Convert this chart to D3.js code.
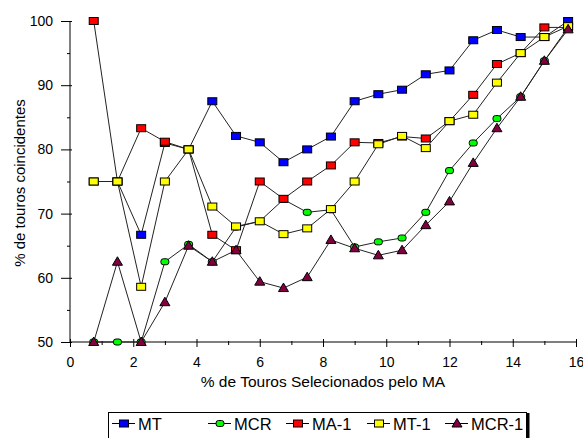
<!DOCTYPE html>
<html>
<head>
<meta charset="utf-8">
<script src="https://cdn.jsdelivr.net/npm/d3@7"></script>
<style>
  html, body { margin: 0; padding: 0; background: #fff; }
  svg { display: block; }
  text { font-family: "Liberation Sans", Arial, sans-serif; fill: #000; }
</style>
</head>
<body>
<svg id="chart" width="583" height="438"></svg>
<script>
// ---- data ----
const xValues = [0.75, 1.5, 2.25, 3.0, 3.75, 4.5, 5.25, 6.0, 6.75, 7.5, 8.25, 9.0, 9.75, 10.5, 11.25, 12.0, 12.75, 13.5, 14.25, 15.0, 15.75];
const MT     = [75, 75, 66.7, 81, 80, 87.5, 82.1, 81.1, 78, 80, 82, 87.5, 88.6, 89.3, 91.7, 92.3, 97, 98.6, 97.5, 97.5, 100];
const MCR    = [50, 50, 50, 62.5, 65.2, 62.5, 67.9, 68.8, 72.2, 70.2, 70.6, 64.8, 65.6, 66.2, 70.2, 76.7, 81, 84.8, 88.2, 93.8, 99];
const MA1    = [100, 75, 83.3, 81.2, 80, 66.7, 64.3, 75, 72.3, 75, 77.5, 81.1, 81, 82, 81.7, 84.4, 88.5, 93.3, 95, 99, 99];
const MT1    = [75, 75, 58.6, 75, 80, 71.1, 68, 68.8, 66.8, 67.7, 70.7, 75, 80.8, 82.1, 80.2, 84.4, 85.4, 90.4, 95, 97.5, 99.2];
const MCR1   = [50, 62.5, 50, 56.2, 65, 62.5, 64.3, 59.4, 58.4, 60.1, 65.9, 64.6, 63.5, 64.3, 68.2, 71.9, 77.9, 83.3, 88.2, 93.8, 98.7];
const seriesNames = ["MT", "MCR", "MA-1", "MT-1", "MCR-1"];
const xTicks = [0, 2, 4, 6, 8, 10, 12, 14, 16];
const yTicks = [50, 60, 70, 80, 90, 100];
const xTitle = "% de Touros Selecionados pelo MA";
const yTitle = "% de touros coincidentes";

// ---- build ----
const seriesValues = [MT, MCR, MA1, MT1, MCR1];
const colors = ["#0000ff", "#00ff00", "#ff0000", "#ffff00", "#800040"];
const shapes = ["square", "round", "square", "square", "triangle"];

const svg = d3.select("#chart");
const x = d3.scaleLinear().domain([0, 16]).range([70, 576]);
const y = d3.scaleLinear().domain([50, 100]).range([342, 21]);

// Y axis
const gy = svg.append("g").attr("transform", "translate(70,0)");
gy.call(d3.axisLeft(y).tickValues(yTicks).tickSize(9).tickPadding(8).tickFormat(d3.format("d")))
  .call(g => g.select(".domain").attr("d", `M0,${y(50)}V${y(100)}`));
gy.selectAll(".tick line").attr("x2", -9).attr("x1", 2);
gy.selectAll("text").style("font-size", "14px");
svg.append("g").attr("transform", "translate(70,0)")
  .call(d3.axisLeft(y).tickValues(d3.range(55, 100, 10)).tickSize(3).tickFormat(""))
  .call(g => g.select(".domain").remove());

// X axis
const gx = svg.append("g").attr("transform", `translate(0,${y(50)})`);
gx.call(d3.axisBottom(x).tickValues(xTicks).tickSize(5).tickPadding(10).tickFormat(d3.format("d")))
  .call(g => g.select(".domain").attr("d", `M${x(0)},0H${x(16)}`));
gx.selectAll(".tick line").attr("y1", -3);
gx.selectAll("text").style("font-size", "14px");
const gxm = svg.append("g").attr("transform", `translate(0,${y(50)})`)
  .call(d3.axisBottom(x).tickValues(d3.range(1, 16, 2)).tickSize(3).tickFormat(""))
  .call(g => g.select(".domain").remove());
gxm.selectAll(".tick line").attr("y1", -1);

svg.selectAll(".domain, .tick line").attr("stroke", "#000");

// titles
svg.append("text").attr("x", (x(0) + x(16)) / 2).attr("y", 387)
  .attr("text-anchor", "middle").style("font-size", "15.5px").text(xTitle);
svg.append("text").attr("transform", `translate(25,183) rotate(-90)`)
  .attr("text-anchor", "middle").style("font-size", "15px").text(yTitle);

// lines
const line = d3.line().x((d, i) => x(xValues[i])).y(d => y(d));
seriesValues.forEach(vals => {
  svg.append("path").datum(vals).attr("d", line)
    .attr("fill", "none").attr("stroke", "#222").attr("stroke-width", 1);
});

function drawMarker(g, shape, color, cx, cy) {
  if (shape === "triangle") {
    g.append("path").attr("d", `M${cx},${cy - 5}L${cx + 5},${cy + 3.5}L${cx - 5},${cy + 3.5}Z`)
      .attr("fill", color).attr("stroke", "#000").attr("stroke-width", 1);
  } else if (shape === "round") {
    g.append("rect").attr("x", cx - 4).attr("y", cy - 3).attr("width", 8).attr("height", 6)
      .attr("rx", 2.5).attr("ry", 2.5)
      .attr("fill", color).attr("stroke", "#000").attr("stroke-width", 1);
  } else {
    g.append("rect").attr("x", cx - 4.5).attr("y", cy - 3.5).attr("width", 9).attr("height", 7)
      .attr("fill", color).attr("stroke", "#000").attr("stroke-width", 1);
  }
}

// markers
seriesValues.forEach((vals, s) => {
  const g = svg.append("g");
  vals.forEach((v, i) => drawMarker(g, shapes[s], colors[s], x(xValues[i]), y(v)));
});

// legend
const lg = svg.append("g");
lg.append("rect").attr("x", 108.5).attr("y", 412.5).attr("width", 418).attr("height", 40)
  .attr("fill", "#fff").attr("stroke", "#000").attr("stroke-width", 1);
lg.append("line").attr("x1", 528).attr("x2", 528).attr("y1", 413).attr("y2", 440)
  .attr("stroke", "#000").attr("stroke-width", 3);
const legendCenters = [124, 220, 298, 379, 457];
seriesNames.forEach((name, s) => {
  const cx = legendCenters[s];
  lg.append("line").attr("x1", cx - 12).attr("x2", cx + 11).attr("y1", 423.5).attr("y2", 423.5)
    .attr("stroke", "#000").attr("stroke-width", 1);
  drawMarker(lg, shapes[s], colors[s], cx, 423.5);
  lg.append("text").attr("x", cx + 14).attr("y", 430).style("font-size", "16.5px").text(name);
});
</script>
</body>
</html>
